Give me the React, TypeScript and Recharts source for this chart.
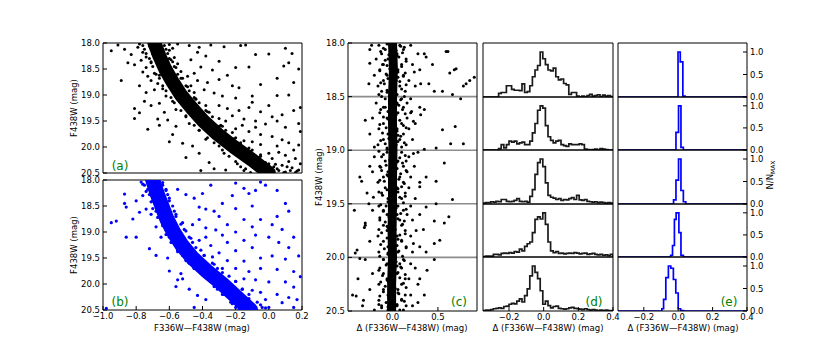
import React from 'react';
import { ScatterChart, Scatter, ComposedChart, Line, XAxis, YAxis, ReferenceLine } from 'recharts';

// ---------- data ----------
// (a) observed CMD: dense main-sequence ridge + surrounding stars  [colour, F438W]
const ridgeA: [number, number][] = [
  [-0.69, 18.0], [-0.66, 18.25], [-0.625, 18.5], [-0.58, 18.75], [-0.53, 19.0], [-0.465, 19.25],
  [-0.395, 19.5], [-0.31, 19.75], [-0.21, 20.0], [-0.1, 20.25], [0.0, 20.5],
];
const starsA: [number, number][] = [
  [-0.95, 18.15], [-0.91, 18.04], [-0.87, 18.12], [-0.83, 18.22], [-0.79, 18.08], [-0.85, 18.38], [-0.81, 18.42],
  [-0.77, 18.33], [-0.74, 18.47], [-0.89, 18.72], [-0.76, 18.56], [-0.73, 18.64], [-0.71, 18.72], [-0.78, 18.82],
  [-0.74, 18.95], [-0.69, 18.9], [-0.81, 19.26], [-0.78, 19.34], [-0.75, 19.12], [-0.71, 19.2], [-0.66, 19.16],
  [-0.63, 19.33], [-0.81, 19.45], [-0.67, 19.46], [-0.61, 19.48], [-0.73, 19.66], [-0.56, 19.6], [-0.58, 19.76],
  [-0.52, 19.93], [-0.46, 19.98], [-0.42, 20.12], [-0.36, 20.3], [-0.33, 20.42], [-0.41, 20.45], [-0.26, 20.44],
  [-0.6, 19.9], [-0.66, 19.58], [-0.5, 20.2],
  [-0.78, 18.02], [-0.6, 18.03], [-0.58, 18.1], [-0.76, 18.18], [-0.57, 18.28], [-0.74, 18.27], [-0.55, 18.4],
  [-0.71, 18.38], [-0.53, 18.55], [-0.69, 18.58], [-0.52, 18.68], [-0.67, 18.78], [-0.47, 18.82], [-0.64, 18.88],
  [-0.45, 18.95], [-0.62, 19.02], [-0.44, 19.08], [-0.58, 19.12], [-0.38, 19.2], [-0.56, 19.28], [-0.36, 19.33],
  [-0.5, 19.4], [-0.3, 19.45], [-0.48, 19.55], [-0.28, 19.6], [-0.42, 19.68], [-0.22, 19.72], [-0.38, 19.85],
  [-0.15, 19.88], [-0.3, 19.98], [-0.12, 20.02], [-0.27, 20.12], [-0.05, 20.15], [-0.2, 20.28], [-0.02, 20.3],
  [-0.14, 20.42], [0.05, 20.42], [0.08, 20.35], [0.1, 20.48], [0.14, 20.4], [0.17, 20.46], [0.12, 20.28],
  [0.02, 20.22], [0.06, 20.1],
  [-0.76, 18.05], [-0.63, 18.05], [-0.72, 18.06], [-0.66, 18.04], [-0.75, 18.12], [-0.62, 18.12], [-0.6, 18.14],
  [-0.74, 18.2], [-0.61, 18.2], [-0.7, 18.21], [-0.72, 18.3], [-0.6, 18.3], [-0.59, 18.32], [-0.71, 18.36],
  [-0.58, 18.36], [-0.7, 18.45], [-0.57, 18.45], [-0.56, 18.47], [-0.68, 18.6], [-0.55, 18.6], [-0.66, 18.62],
  [-0.66, 18.68], [-0.53, 18.68], [-0.64, 18.82], [-0.5, 18.82], [-0.49, 18.84], [-0.62, 18.92], [-0.48, 18.92],
  [-0.59, 19.05], [-0.45, 19.05], [-0.44, 19.07], [-0.57, 19.15], [-0.42, 19.15], [-0.53, 19.3], [-0.38, 19.3],
  [-0.37, 19.32], [-0.5, 19.42], [-0.34, 19.42], [-0.45, 19.58], [-0.29, 19.58], [-0.3, 19.6], [-0.42, 19.68],
  [-0.26, 19.68], [-0.37, 19.82], [-0.2, 19.82], [-0.21, 19.84], [-0.33, 19.92], [-0.17, 19.92], [-0.28, 20.06],
  [-0.1, 20.06], [-0.11, 20.08], [-0.24, 20.18], [-0.05, 20.18], [-0.06, 20.2], [-0.19, 20.32], [0.0, 20.32],
  [0.04, 20.33], [-0.17, 20.38], [0.03, 20.38], [0.11, 20.38], [-0.15, 20.45], [0.06, 20.45], [0.13, 20.45],
  [0.18, 20.44], [-0.11, 20.49], [0.0, 20.49], [0.09, 20.49], [0.16, 20.49],
  [-0.55, 18.02], [-0.48, 18.05], [-0.42, 18.08], [-0.35, 18.04], [-0.27, 18.07], [-0.17, 18.05], [-0.14, 18.04],
  [-0.08, 18.22], [0.0, 18.21], [0.12, 18.38], [0.09, 18.44], [-0.12, 18.46], [-0.2, 18.47], [-0.3, 18.35],
  [-0.38, 18.25], [-0.43, 18.18], [-0.47, 18.32], [-0.41, 18.46], [-0.34, 18.52], [-0.45, 18.58], [-0.49, 18.64],
  [-0.43, 18.72], [-0.37, 18.76], [-0.3, 18.7], [-0.25, 18.62], [-0.22, 18.82], [-0.39, 18.9], [-0.33, 18.96],
  [-0.28, 19.02], [-0.18, 18.86], [-0.05, 18.8], [-0.1, 19.02], [0.05, 18.68], [0.15, 18.76], [0.12, 19.0],
  [0.05, 19.01], [-0.2, 19.06], [-0.3, 19.2], [-0.25, 19.26], [-0.18, 19.3], [-0.12, 19.24], [-0.05, 19.32],
  [0.0, 19.2], [0.15, 19.3], [0.19, 19.24], [-0.22, 19.4], [-0.15, 19.46], [-0.08, 19.5], [-0.02, 19.56],
  [0.05, 19.5], [0.1, 19.62], [0.18, 19.55], [0.19, 19.7], [-0.2, 19.65], [-0.12, 19.7], [-0.05, 19.76],
  [0.02, 19.8], [0.08, 19.86], [0.12, 19.92], [0.18, 19.96], [0.15, 20.06], [0.05, 19.98], [-0.05, 19.95],
  [-0.1, 19.9], [0.0, 20.12], [0.1, 20.16], [0.16, 20.22], [0.19, 20.32], [-0.08, 19.62], [-0.16, 19.58],
  [-0.26, 19.5], [0.08, 19.38], [0.02, 19.42], [-0.1, 19.14], [0.18, 18.5], [0.1, 18.1], [0.14, 18.2],
];

// (b) corrected CMD
const ridgeB: [number, number][] = [
  [-0.7, 18.0], [-0.675, 18.25], [-0.645, 18.5], [-0.615, 18.75], [-0.575, 19.0], [-0.525, 19.25],
  [-0.46, 19.5], [-0.375, 19.75], [-0.28, 20.0], [-0.195, 20.25], [-0.11, 20.5],
];
const starsB: [number, number][] = [
  [-0.95, 18.82], [-0.92, 18.79], [-0.87, 18.27], [-0.87, 18.45], [-0.86, 18.52], [-0.86, 19.1], [-0.8, 19.1],
  [-0.8, 18.4], [-0.77, 18.04], [-0.76, 18.3], [-0.74, 18.56], [-0.71, 18.66], [-0.68, 18.9], [-0.65, 19.1],
  [-0.68, 19.45], [-0.61, 19.5], [-0.72, 19.32], [-0.53, 19.8], [-0.52, 19.9], [-0.48, 20.1], [-0.43, 20.22],
  [-0.98, 20.47], [-0.6, 19.75], [-0.56, 20.05], [-0.78, 18.62], [-0.82, 18.75],
  [-0.76, 18.08], [-0.64, 18.05], [-0.62, 18.2], [-0.74, 18.22], [-0.6, 18.35], [-0.71, 18.42], [-0.58, 18.5],
  [-0.7, 18.55], [-0.56, 18.66], [-0.67, 18.72], [-0.52, 18.82], [-0.64, 18.88], [-0.5, 18.98], [-0.62, 19.05],
  [-0.47, 19.12], [-0.59, 19.2], [-0.44, 19.3], [-0.55, 19.38], [-0.39, 19.45], [-0.5, 19.55], [-0.33, 19.62],
  [-0.45, 19.7], [-0.28, 19.78], [-0.38, 19.88], [-0.2, 19.95], [-0.33, 20.05], [-0.16, 20.1], [-0.28, 20.2],
  [-0.12, 20.28], [-0.22, 20.38], [-0.05, 20.4], [-0.18, 20.48], [-0.02, 20.46],
  [-0.75, 18.1], [-0.64, 18.1], [-0.73, 18.18], [-0.62, 18.18], [-0.72, 18.28], [-0.61, 18.28], [-0.7, 18.4],
  [-0.6, 18.4], [-0.68, 18.6], [-0.57, 18.6], [-0.66, 18.7], [-0.56, 18.7], [-0.64, 18.85], [-0.53, 18.85],
  [-0.62, 18.95], [-0.51, 18.95], [-0.6, 19.1], [-0.48, 19.1], [-0.58, 19.2], [-0.46, 19.2], [-0.55, 19.35],
  [-0.41, 19.35], [-0.52, 19.45], [-0.39, 19.45], [-0.48, 19.6], [-0.34, 19.6], [-0.45, 19.7], [-0.31, 19.7],
  [-0.39, 19.85], [-0.24, 19.85], [-0.35, 19.95], [-0.2, 19.95], [-0.31, 20.1], [-0.16, 20.1], [-0.27, 20.2],
  [-0.12, 20.2], [-0.23, 20.35], [-0.07, 20.35], [-0.2, 20.45], [-0.04, 20.45],
  [-0.35, 18.1], [-0.4, 18.26], [-0.45, 18.35], [-0.5, 18.28], [-0.55, 18.18], [-0.2, 18.06], [-0.42, 18.52],
  [-0.38, 18.56], [-0.33, 18.6], [-0.28, 18.45], [-0.22, 18.3], [-0.15, 18.16], [-0.12, 18.26], [-0.08, 18.2],
  [-0.05, 18.04], [-0.02, 18.1], [0.05, 18.2], [0.1, 18.45], [-0.1, 18.5], [-0.2, 18.55], [-0.3, 18.7],
  [-0.42, 18.76], [-0.46, 18.86], [-0.38, 18.92], [-0.32, 18.96], [-0.25, 18.86], [-0.15, 18.76], [-0.05, 18.76],
  [0.02, 18.86], [0.05, 18.7], [-0.2, 19.0], [-0.28, 19.06], [-0.38, 19.1], [-0.42, 19.16], [-0.35, 19.26],
  [-0.25, 19.2], [-0.15, 19.16], [-0.08, 19.06], [0.0, 19.1], [0.06, 19.2], [0.12, 19.3], [-0.1, 19.3],
  [-0.2, 19.36], [-0.3, 19.4], [-0.34, 19.48], [-0.25, 19.55], [-0.15, 19.56], [-0.05, 19.5], [0.02, 19.46],
  [0.1, 19.52], [0.18, 19.46], [-0.28, 19.7], [-0.2, 19.7], [-0.12, 19.76], [-0.05, 19.7], [0.05, 19.72],
  [0.15, 19.76], [0.19, 19.86], [-0.15, 19.9], [-0.08, 19.92], [0.0, 19.96], [0.1, 19.96], [0.15, 20.06],
  [-0.1, 20.12], [-0.05, 20.16], [0.05, 20.2], [0.12, 20.26], [0.17, 20.3], [-0.02, 20.3], [0.08, 20.36],
  [0.15, 20.45], [0.0, 20.45], [-0.38, 20.3], [-0.45, 20.45], [-0.55, 19.92], [-0.1, 18.9], [0.08, 18.95],
  [0.15, 19.1], [0.12, 18.6],
];

// (c) verticalised CMD  [delta colour, F438W]
const ridgeC: [number, number][] = [
  [0.0, 18.0], [0.01, 18.25], [0.0, 18.5], [0.0, 18.75], [0.005, 19.0], [0.0, 19.25], [0.0, 19.5],
  [-0.005, 19.75], [0.0, 20.0], [-0.01, 20.25], [-0.01, 20.5],
];
const starsC: [number, number][] = [
  [-0.06, 18.01], [0.09, 18.03], [-0.1, 18.05], [0.04, 18.07], [0.11, 18.09], [-0.04, 18.11], [0.07, 18.13],
  [-0.08, 18.16], [0.03, 18.18], [-0.11, 18.2], [0.1, 18.22], [-0.03, 18.24], [0.06, 18.27], [-0.07, 18.29],
  [0.12, 18.31], [-0.05, 18.33], [0.08, 18.36], [-0.09, 18.38], [0.02, 18.41], [0.1, 18.43], [-0.06, 18.46],
  [0.05, 18.48], [-0.12, 18.5], [0.09, 18.53], [-0.03, 18.55], [0.07, 18.58], [-0.08, 18.6], [0.11, 18.62],
  [-0.05, 18.64], [0.04, 18.67], [-0.1, 18.69], [0.08, 18.72], [-0.02, 18.74], [0.12, 18.77], [-0.07, 18.79],
  [0.05, 18.82], [-0.11, 18.84], [0.09, 18.87], [-0.04, 18.89], [0.06, 18.92], [-0.08, 18.94], [0.1, 18.97],
  [-0.06, 18.99], [0.03, 19.02], [-0.1, 19.04], [0.08, 19.07], [-0.03, 19.09], [0.11, 19.12], [-0.07, 19.14],
  [0.05, 19.17], [-0.12, 19.19], [0.09, 19.22], [-0.05, 19.24], [0.07, 19.27], [-0.09, 19.29], [0.02, 19.32],
  [0.1, 19.34], [-0.06, 19.37], [0.06, 19.39], [-0.11, 19.42], [0.08, 19.44], [-0.03, 19.47], [0.12, 19.49],
  [-0.07, 19.52], [0.04, 19.54], [-0.1, 19.57], [0.09, 19.59], [-0.04, 19.62], [0.06, 19.64], [-0.08, 19.67],
  [0.11, 19.69], [-0.05, 19.72], [0.03, 19.74], [-0.12, 19.77], [0.08, 19.79], [-0.06, 19.82], [0.1, 19.84],
  [-0.03, 19.87], [0.05, 19.89], [-0.09, 19.92], [0.07, 19.94], [-0.05, 19.97], [0.11, 19.99], [-0.1, 20.02],
  [0.04, 20.04], [-0.07, 20.07], [0.09, 20.09], [-0.03, 20.12], [0.06, 20.14], [-0.11, 20.17], [0.08, 20.19],
  [-0.05, 20.22], [0.12, 20.24], [-0.08, 20.27], [0.03, 20.29], [-0.1, 20.32], [0.07, 20.34], [-0.04, 20.37],
  [0.1, 20.39], [-0.07, 20.42], [0.05, 20.44], [-0.12, 20.47], [0.08, 20.49],
  [0.13, 18.04], [-0.13, 18.08], [0.05, 18.12], [0.15, 18.17], [-0.06, 18.21], [-0.14, 18.26], [0.14, 18.28],
  [0.06, 18.32], [-0.13, 18.37], [0.15, 18.39], [-0.06, 18.44], [-0.15, 18.48], [0.13, 18.5], [0.05, 18.57],
  [-0.13, 18.62], [0.14, 18.66], [-0.05, 18.71], [-0.14, 18.76], [0.15, 18.79], [0.06, 18.86], [-0.13, 18.91],
  [0.13, 18.93], [-0.06, 18.98], [-0.15, 19.01], [0.14, 19.05], [0.05, 19.11], [-0.13, 19.16], [0.15, 19.19],
  [-0.06, 19.23], [-0.14, 19.28], [0.13, 19.31], [0.06, 19.36], [-0.15, 19.39], [0.14, 19.43], [-0.05, 19.48],
  [-0.13, 19.51], [0.15, 19.55], [0.05, 19.6], [-0.14, 19.63], [0.13, 19.66], [-0.06, 19.71], [-0.15, 19.74],
  [0.14, 19.78], [0.06, 19.83], [-0.13, 19.88], [0.15, 19.91], [-0.05, 19.96], [-0.14, 19.99], [0.13, 20.03],
  [0.05, 20.08], [-0.15, 20.12], [0.14, 20.16], [-0.06, 20.21], [-0.13, 20.23], [0.15, 20.28], [0.06, 20.33],
  [-0.14, 20.36], [0.13, 20.41], [-0.05, 20.46], [-0.15, 20.44],
  [-0.15, 18.02], [0.08, 18.02], [0.2, 18.02], [-0.08, 18.06], [0.12, 18.06], [-0.25, 18.06], [0.05, 18.1],
  [-0.12, 18.1], [0.28, 18.1], [-0.05, 18.15], [0.15, 18.15], [-0.18, 18.15], [0.1, 18.2], [-0.1, 18.2],
  [0.22, 18.2], [-0.14, 18.25], [0.06, 18.25], [0.3, 18.25], [0.12, 18.3], [-0.06, 18.3], [-0.2, 18.3],
  [-0.1, 18.35], [0.18, 18.35], [0.04, 18.35], [0.08, 18.4], [-0.16, 18.4], [0.25, 18.4], [-0.04, 18.45],
  [0.14, 18.45], [-0.12, 18.45], [0.1, 18.52], [-0.08, 18.52], [0.2, 18.52], [-0.18, 18.56], [0.05, 18.56],
  [0.16, 18.56], [-0.1, 18.6], [0.12, 18.6], [0.3, 18.6], [0.06, 18.65], [-0.14, 18.65], [0.2, 18.65],
  [-0.06, 18.7], [0.16, 18.7], [-0.22, 18.7], [0.1, 18.75], [-0.1, 18.75], [0.25, 18.75], [-0.15, 18.8],
  [0.05, 18.8], [0.18, 18.8], [0.12, 18.85], [-0.05, 18.85], [-0.25, 18.85], [-0.1, 18.9], [0.08, 18.9],
  [0.22, 18.9], [0.15, 18.95], [-0.16, 18.95], [0.04, 18.95], [-0.06, 19.02], [0.1, 19.02], [0.28, 19.02],
  [0.18, 19.06], [-0.12, 19.06], [-0.2, 19.06], [-0.08, 19.1], [0.06, 19.1], [0.15, 19.1], [0.12, 19.15],
  [-0.14, 19.15], [0.24, 19.15], [-0.05, 19.2], [0.16, 19.2], [-0.22, 19.2], [0.08, 19.25], [-0.1, 19.25],
  [0.2, 19.25], [-0.16, 19.3], [0.12, 19.3], [0.3, 19.3], [0.05, 19.35], [-0.08, 19.35], [0.18, 19.35],
  [-0.12, 19.4], [0.14, 19.4], [-0.28, 19.4], [0.1, 19.45], [-0.05, 19.45], [0.25, 19.45], [-0.15, 19.52],
  [0.06, 19.52], [0.2, 19.52], [0.12, 19.56], [-0.1, 19.56], [-0.22, 19.56], [-0.06, 19.6], [0.16, 19.6],
  [0.3, 19.6], [0.08, 19.65], [-0.14, 19.65], [0.22, 19.65], [-0.1, 19.7], [0.1, 19.7], [-0.3, 19.7],
  [0.14, 19.75], [-0.06, 19.75], [0.26, 19.75], [-0.16, 19.8], [0.05, 19.8], [0.2, 19.8], [0.1, 19.85],
  [-0.1, 19.85], [-0.25, 19.85], [-0.05, 19.9], [0.15, 19.9], [0.3, 19.9], [0.06, 19.95], [-0.15, 19.95],
  [0.22, 19.95], [-0.1, 20.02], [0.12, 20.02], [-0.3, 20.02], [0.08, 20.06], [-0.06, 20.06], [0.2, 20.06],
  [-0.14, 20.1], [0.1, 20.1], [0.25, 20.1], [0.05, 20.15], [-0.1, 20.15], [-0.22, 20.15], [-0.06, 20.2],
  [0.14, 20.2], [0.18, 20.2], [0.1, 20.25], [-0.15, 20.25], [0.28, 20.25], [-0.1, 20.3], [0.06, 20.3],
  [-0.25, 20.3], [0.14, 20.35], [-0.05, 20.35], [0.2, 20.35], [-0.15, 20.4], [0.1, 20.4], [-0.32, 20.4],
  [0.05, 20.45], [-0.12, 20.45], [0.22, 20.45], [-0.05, 20.49], [0.12, 20.49], [-0.2, 20.49],
  [0.59, 18.08], [0.61, 18.08], [0.35, 18.1], [0.37, 18.13], [0.68, 18.25], [0.7, 18.24], [0.63, 18.28],
  [0.78, 18.4], [0.81, 18.38], [0.46, 18.45], [0.55, 18.45], [0.66, 18.48], [0.75, 18.52], [0.44, 18.2],
  [0.31, 18.38], [0.4, 18.38], [0.24, 18.27], [0.35, 18.62], [0.31, 18.67], [0.21, 18.64], [0.23, 18.73],
  [0.55, 18.81], [0.69, 18.78], [0.64, 18.94], [0.78, 18.94], [0.48, 18.98], [0.35, 18.99], [0.23, 19.03],
  [0.57, 19.12], [0.37, 19.25], [0.48, 19.29], [0.3, 19.34], [0.66, 19.46], [0.48, 19.5], [0.37, 19.53],
  [0.62, 19.62], [0.57, 19.68], [0.46, 19.66], [0.34, 19.74], [0.46, 19.87], [0.52, 19.84], [0.37, 19.95],
  [0.23, 19.87], [0.46, 20.02], [0.38, 20.12], [0.3, 20.2], [0.35, 20.35], [-0.36, 19.25], [-0.34, 19.29],
  [-0.42, 19.56], [-0.3, 18.72], [-0.39, 19.93], [-0.41, 19.96], [-0.44, 20.35], [-0.4, 20.36], [-0.36, 20.01],
  [-0.3, 19.68], [-0.31, 19.72], [-0.26, 19.5], [-0.25, 19.15], [-0.21, 19.44], [-0.2, 18.97], [-0.26, 18.38],
  [-0.25, 18.19], [-0.23, 18.02], [-0.33, 20.45], [-0.38, 20.2], [0.85, 18.35], [0.9, 18.32], [0.28, 20.42],
  [0.15, 20.45],
];
const magSeparators = [18.5, 19.0, 19.5, 20.0];

// (d) histograms of delta colour, N/Nmax, one per magnitude bin (bin left edges)
const dEdges = [
  -0.35, -0.335, -0.32, -0.305, -0.29, -0.275, -0.26, -0.245, -0.23, -0.215, -0.2, -0.185, -0.17,
  -0.155, -0.14, -0.125, -0.11, -0.095, -0.08, -0.065, -0.05, -0.035, -0.02, -0.005, 0.01, 0.025,
  0.04, 0.055, 0.07, 0.085, 0.1, 0.115, 0.13, 0.145, 0.16, 0.175, 0.19, 0.205, 0.22, 0.235, 0.25,
  0.265, 0.28, 0.295, 0.31, 0.325, 0.34, 0.355, 0.37, 0.385, 0.4,
];
const histD1 = [
  0, 0, 0, 0, 0, 0, 0.08, 0.1, 0.1, 0.25, 0.25, 0.17, 0.15, 0.15, 0.14, 0.29, 0.1, 0.12, 0.25, 0.45,
  0.6, 0.7, 1.0, 0.85, 0.72, 0.6, 0.58, 0.64, 0.45, 0.38, 0.4, 0.3, 0.27, 0.06, 0.1, 0.1, 0.02, 0,
  0.02, 0, 0.03, 0.06, 0.02, 0.03, 0.05, 0.01, 0.04, 0.02, 0.03, 0.01,
];
const histD2 = [
  0, 0, 0, 0, 0, 0, 0.03, 0.12, 0.05, 0.12, 0.2, 0.18, 0.2, 0.14, 0.16, 0.18, 0.12, 0.12, 0.2, 0.39,
  0.6, 0.9, 1.0, 0.95, 0.55, 0.3, 0.22, 0.16, 0.2, 0.22, 0.12, 0.1, 0.08, 0.14, 0.12, 0.12, 0.12, 0.14,
  0.12, 0.02, 0.01, 0, 0.01, 0.02, 0, 0.03, 0.02, 0.01, 0, 0,
];
const histD3 = [
  0.02, 0.03, 0.03, 0.05, 0.04, 0.06, 0.05, 0.1, 0.1, 0.06, 0.05, 0.06, 0.08, 0.12, 0.06, 0.05, 0.06,
  0.04, 0.17, 0.32, 0.66, 0.92, 1.0, 0.83, 0.47, 0.19, 0.15, 0.13, 0.1, 0.12, 0.08, 0.1, 0.09, 0.12,
  0.14, 0.1, 0.19, 0.09, 0.08, 0.1, 0.06, 0.05, 0.04, 0.05, 0.03, 0.04, 0.03, 0.02, 0.03, 0.02,
];
const histD4 = [
  0.01, 0.02, 0.02, 0.02, 0.06, 0.06, 0.05, 0.08, 0.09, 0.08, 0.1, 0.09, 0.12, 0.11, 0.18, 0.14, 0.24,
  0.3, 0.34, 0.55, 0.85, 0.91, 0.86, 1.0, 0.74, 0.34, 0.14, 0.1, 0.12, 0.08, 0.09, 0.07, 0.08, 0.09,
  0.08, 0.1, 0.09, 0.07, 0.08, 0.09, 0.06, 0.07, 0.08, 0.06, 0.05, 0.06, 0.04, 0.05, 0.03, 0.06,
];
const histD5 = [
  0.01, 0.02, 0.02, 0.03, 0.05, 0.06, 0.07, 0.06, 0.1, 0.11, 0.15, 0.17, 0.16, 0.22, 0.27, 0.2, 0.34,
  0.49, 0.78, 1.0, 0.86, 0.72, 0.45, 0.15, 0.22, 0.12, 0.07, 0.1, 0.11, 0.06, 0.05, 0.04, 0.05, 0.07,
  0.08, 0.06, 0.05, 0.04, 0.03, 0.05, 0.03, 0.02, 0.03, 0.02, 0.01, 0.02, 0.01, 0.02, 0.01, 0.01,
];
const histD = [histD1, histD2, histD3, histD4, histD5];

// (e) histograms of the pure-error distribution: [bin left edge, N/Nmax]
const histE1: [number, number][] = [[-0.35, 0], [-0.001, 1.0], [0.012, 0.78], [0.027, 0.02], [0.04, 0], [0.4, 0]];
const histE2: [number, number][] = [[-0.35, 0], [-0.013, 0.4], [0.002, 1.0], [0.016, 0.06], [0.03, 0], [0.4, 0]];
const histE3: [number, number][] = [
  [-0.35, 0], [-0.027, 0.09], [-0.013, 0.53], [0.002, 1.0], [0.016, 0.3], [0.03, 0.05], [0.044, 0], [0.4, 0],
];
const histE4: [number, number][] = [
  [-0.35, 0], [-0.044, 0.04], [-0.033, 0.26], [-0.022, 0.85], [-0.012, 1.0], [0.004, 0.55], [0.016, 0.04],
  [0.03, 0], [0.4, 0],
];
const histE5: [number, number][] = [
  [-0.35, 0], [-0.095, 0.05], [-0.085, 0.26], [-0.072, 0.74], [-0.057, 1.0], [-0.043, 0.95], [-0.028, 0.7],
  [-0.014, 0.4], [0.0, 0.05], [0.014, 0.01], [0.03, 0], [0.4, 0],
];
const histE = [histE1, histE2, histE3, histE4, histE5];

const magTicks = [18.0, 18.5, 19.0, 19.5, 20.0, 20.5];
const colourTicks = [-1.0, -0.8, -0.6, -0.4, -0.2, 0.0, 0.2];
const deltaTicksC = [0.0, 0.5];
const deltaTicksH = [-0.2, 0.0, 0.2, 0.4];
const normTicks = [0.0, 0.5, 1.0];

// ---------- drawing ----------
const FONT = "'DejaVu Sans', sans-serif";
const M = 26;
const FS = 8.5;

const steps = (a: number, b: number, s: number) => {
  const out: number[] = [];
  for (let v = a; v <= b + 1e-9; v += s) out.push(Math.round(v * 1000) / 1000);
  return out;
};
const fmt = (v: number) => v.toFixed(1).replace('-', '\u2212');
const xy = (pts: [number, number][]) => pts.map(([x, y]) => ({ x, y }));
const dotOf = (color: string, r: number) => (p: any) => <circle cx={p.cx} cy={p.cy} r={r} fill={color} />;
const noDot = () => <g />;

type FrameOpts = {
  xd: [number, number]; yd: [number, number];
  xMaj: number[]; xMin: number[]; yMaj: number[]; yMin: number[];
  xLab?: boolean; yLab?: 'left' | 'right'; rev?: boolean;
};

// every axis is 1px thick (recharts skips 0-sized axes), two per side
function frame(o: FrameOpts) {
  const ink = { stroke: '#000', strokeWidth: 1 };
  const txt = { fontSize: FS, fill: '#000', fontFamily: FONT };
  const x = { type: 'number' as const, dataKey: 'x', domain: o.xd, allowDataOverflow: true, interval: 0 as const, height: 1, tickFormatter: fmt, tickMargin: 7 };
  const y = { type: 'number' as const, dataKey: 'y', domain: o.yd, allowDataOverflow: true, interval: 0 as const, width: 1, reversed: !!o.rev, tickFormatter: fmt, tickMargin: 7 };
  return [
    <XAxis key="xb" xAxisId="b" orientation="bottom" {...x} ticks={o.xMaj} tickSize={-4} tick={o.xLab ? txt : false} axisLine={ink} tickLine={ink} />,
    <XAxis key="xbm" xAxisId="bm" orientation="bottom" {...x} ticks={o.xMin} tickSize={-2} tick={false} axisLine={false} tickLine={ink} />,
    <XAxis key="xt" xAxisId="t" orientation="top" {...x} ticks={o.xMaj} tickSize={-4} tick={false} axisLine={ink} tickLine={ink} />,
    <XAxis key="xtm" xAxisId="tm" orientation="top" {...x} ticks={o.xMin} tickSize={-2} tick={false} axisLine={false} tickLine={ink} />,
    <YAxis key="yl" yAxisId="l" orientation="left" {...y} ticks={o.yMaj} tickSize={-4} tick={o.yLab === 'left' ? txt : false} axisLine={ink} tickLine={ink} />,
    <YAxis key="ylm" yAxisId="lm" orientation="left" {...y} ticks={o.yMin} tickSize={-2} tick={false} axisLine={false} tickLine={ink} />,
    <YAxis key="yr" yAxisId="r" orientation="right" {...y} ticks={o.yMaj} tickSize={-4} tick={o.yLab === 'right' ? txt : false} axisLine={ink} tickLine={ink} />,
    <YAxis key="yrm" yAxisId="rm" orientation="right" {...y} ticks={o.yMin} tickSize={-2} tick={false} axisLine={false} tickLine={ink} />,
  ];
}

const at = (x: number, y: number): React.CSSProperties => ({ position: 'absolute', left: x - M, top: y - M });
const mg = { top: M - 2, right: M - 2, bottom: M - 2, left: M - 2 };

function Cmd({ x, y, w, h, ridge, stars, color, band, r, xd, xMaj, xMin, xLab, seps }: any) {
  return (
    <div style={at(x, y)}>
      <ScatterChart width={w + 2 * M} height={h + 2 * M} margin={mg}>
        {frame({ xd, yd: [18, 20.5], xMaj, xMin, yMaj: magTicks, yMin: steps(18, 20.5, 0.1), xLab, yLab: 'left', rev: true })}
        <Scatter data={xy(ridge)} xAxisId="b" yAxisId="l" isAnimationActive={false} shape={noDot}
          line={{ stroke: color, strokeWidth: band, strokeLinecap: 'round', strokeLinejoin: 'round' }} lineType="joint" />
        <Scatter data={xy(stars)} xAxisId="b" yAxisId="l" isAnimationActive={false} shape={dotOf(color, r)} />
        {(seps || []).map((m: number) => (
          <ReferenceLine key={m} y={m} xAxisId="b" yAxisId="l" stroke="#8c8c8c" strokeWidth={1.6} />
        ))}
      </ScatterChart>
    </div>
  );
}

function Hist({ x, y, w, h, pts, color, xLab, yLab }: any) {
  return (
    <div style={at(x, y)}>
      <ComposedChart width={w + 2 * M} height={h + 2 * M} margin={mg}>
        {frame({ xd: [-0.35, 0.4], yd: [0, 1.2], xMaj: deltaTicksH, xMin: steps(-0.35, 0.4, 0.05), yMaj: normTicks, yMin: steps(0, 1.2, 0.1), xLab, yLab })}
        <Line data={pts} dataKey="y" xAxisId="b" yAxisId="l" type="stepAfter" stroke={color} strokeWidth={1.7}
          dot={false} activeDot={false} isAnimationActive={false} />
      </ComposedChart>
    </div>
  );
}

function Txt({ x, y, rot, size = FS, color = '#000', children }: any) {
  return (
    <div style={{
      position: 'absolute', left: x, top: y, transform: `translate(-50%, -50%)${rot ? ` rotate(${rot}deg)` : ''}`,
      fontFamily: FONT, fontSize: size, color, whiteSpace: 'nowrap', lineHeight: 1,
    }}>{children}</div>
  );
}

const rowTop = [43, 97, 150, 204, 257, 311];
const GREEN = '#008000';

export default function App() {
  const dPts = histD.map((vals) => [...vals.map((v, i) => ({ x: dEdges[i], y: v })), { x: 0.4, y: 0 }]);
  const ePts = histE.map((p) => xy(p));
  return (
    <div style={{ position: 'absolute', left: 0, top: 0, width: 830, height: 356, background: '#fff', overflow: 'hidden' }}>
      <Cmd x={103} y={43} w={199} h={130} ridge={ridgeA} stars={starsA} color="#000" band={14} r={1.5}
        xd={[-1, 0.2]} xMaj={colourTicks} xMin={steps(-1, 0.2, 0.05)} xLab={false} />
      <Cmd x={103} y={180} w={199} h={130} ridge={ridgeB} stars={starsB} color="#0000ff" band={15} r={1.6}
        xd={[-1, 0.2]} xMaj={colourTicks} xMin={steps(-1, 0.2, 0.05)} xLab />
      <Cmd x={348} y={43} w={129} h={268} ridge={ridgeC} stars={starsC} color="#000" band={9} r={1.5}
        xd={[-0.49, 0.93]} xMaj={deltaTicksC} xMin={steps(-0.4, 0.9, 0.1)} xLab seps={magSeparators} />
      {dPts.map((pts, i) => (
        <Hist key={`d${i}`} x={483} y={rowTop[i]} w={130} h={rowTop[i + 1] - rowTop[i]} pts={pts} color="#1a1a1a" xLab={i === 4} />
      ))}
      {ePts.map((pts, i) => (
        <Hist key={`e${i}`} x={618} y={rowTop[i]} w={129} h={rowTop[i + 1] - rowTop[i]} pts={pts} color="#0000ff" xLab={i === 4} yLab="right" />
      ))}

      <Txt x={74} y={108} rot={-90}>F438W (mag)</Txt>
      <Txt x={74} y={245} rot={-90}>F438W (mag)</Txt>
      <Txt x={319} y={177} rot={-90}>F438W (mag)</Txt>
      <Txt x={202} y={328}>F336W—F438W (mag)</Txt>
      <Txt x={412} y={328}>Δ (F336W—F438W) (mag)</Txt>
      <Txt x={548} y={328}>Δ (F336W—F438W) (mag)</Txt>
      <Txt x={683} y={328}>Δ (F336W—F438W) (mag)</Txt>
      <Txt x={771} y={175} rot={-90}>N/N<sub style={{ fontSize: 6 }}>MAX</sub></Txt>

      <Txt x={120} y={166} size={12} color={GREEN}>(a)</Txt>
      <Txt x={120} y={302} size={12} color={GREEN}>(b)</Txt>
      <Txt x={459} y={302} size={12} color={GREEN}>(c)</Txt>
      <Txt x={594} y={302} size={12} color={GREEN}>(d)</Txt>
      <Txt x={729} y={302} size={12} color={GREEN}>(e)</Txt>
    </div>
  );
}
